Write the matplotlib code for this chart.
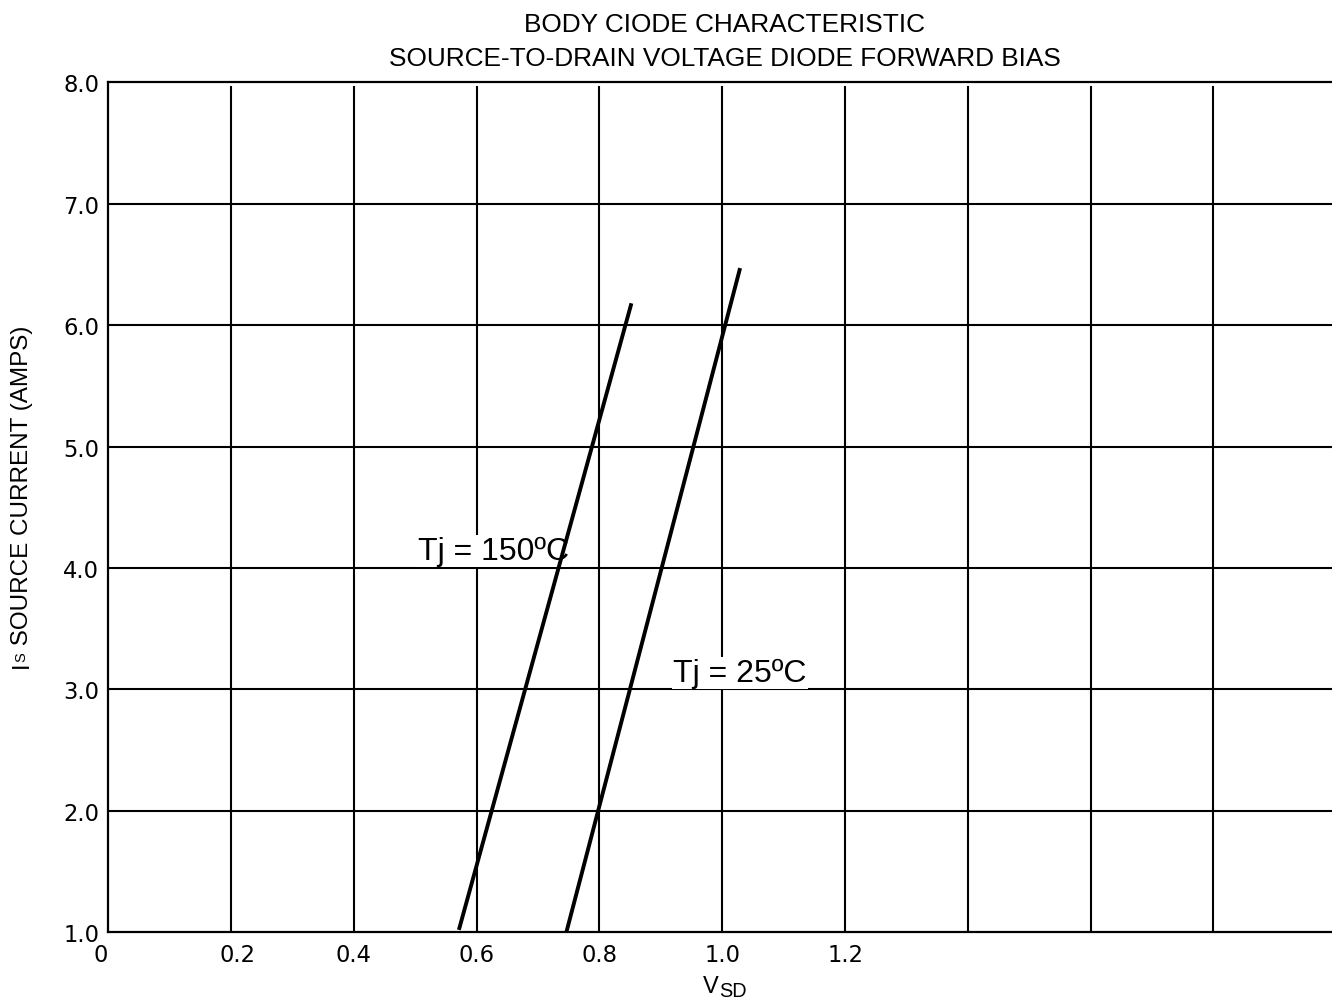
import matplotlib
matplotlib.use("Agg")
import matplotlib.pyplot as plt
from matplotlib.transforms import ScaledTranslation

plt.rcParams['font.family'] = ['Liberation Sans', 'DejaVu Sans']

# Forward characteristic of the body diode (V_SD in volts, I_S in amps)
vsd_150 = [0.571, 0.852]
is_150 = [1.02, 6.18]
vsd_25 = [0.746, 1.029]
is_25 = [1.00, 6.47]

x_ticks = [0, 0.2, 0.4, 0.6, 0.8, 1.0, 1.2]
x_tick_labels = ["0", "0.2", "0.4", "0.6", "0.8", "1.0", "1.2"]
x_grid = [0.2, 0.4, 0.6, 0.8, 1.0, 1.2, 1.4, 1.6, 1.8]
y_ticks = [1, 2, 3, 4, 5, 6, 7, 8]
y_tick_labels = ["1.0", "2.0", "3.0", "4.0", "5.0", "6.0", "7.0", "8.0"]

W, H = 1332, 1004
fig = plt.figure(figsize=(W / 100, H / 100), dpi=100)
ax = fig.add_axes([108.3 / W, 1 - 933.3 / H, 1 - 108.3 / W, (933.3 - 83.3) / H])

ax.set_xlim(0, 1.993)
ax.set_ylim(1, 8)

# grid
for y in y_ticks[1:-1]:
    ax.axhline(y, color='black', lw=1.5, zorder=1)
for x in x_grid:
    ax.axvline(x, ymin=0, ymax=0.995, color='black', lw=1.5, zorder=1)

for side in ['left', 'top', 'bottom']:
    ax.spines[side].set_linewidth(1.6)
    ax.spines[side].set_color('black')
ax.spines['right'].set_visible(False)

tick_font = dict(family='DejaVu Sans', size=16.3)
ax.set_xticks(x_ticks)
ax.set_xticklabels(x_tick_labels, fontdict=tick_font)
ax.set_yticks(y_ticks)
ax.set_yticklabels(y_tick_labels, fontdict=tick_font)
ax.tick_params(axis='both', length=0)
ax.tick_params(axis='y', pad=6.5)
ax.tick_params(axis='x', pad=7.5)

xlabels = ax.get_xticklabels()
xlabels[0].set_horizontalalignment('right')
xlabels[1].set_transform(xlabels[1].get_transform()
                         + ScaledTranslation(6 / 100, 0, fig.dpi_scale_trans))

# curves
ax.plot(vsd_150, is_150, color='black', lw=2.8, zorder=3, solid_capstyle='butt')
ax.plot(vsd_25, is_25, color='black', lw=2.8, zorder=3, solid_capstyle='butt')

# curve labels
box = dict(facecolor='white', edgecolor='none', pad=1)
ax.text(0.5045, 4.074, "Tj = 150ºC", fontsize=23, ha='left', va='baseline',
        zorder=2, bbox=box)
ax.text(0.9199, 3.07, "Tj = 25ºC", fontsize=23, ha='left', va='baseline',
        zorder=2, bbox=box)

# title
fig.text(725 / W, 1 - 31.5 / H, "BODY CIODE CHARACTERISTIC",
         fontsize=18.9, ha='center', va='baseline')
fig.text(725 / W, 1 - 65.5 / H, "SOURCE-TO-DRAIN VOLTAGE DIODE FORWARD BIAS",
         fontsize=18.9, ha='center', va='baseline')

# x axis title: V with subscript SD
fig.canvas.draw()
renderer = fig.canvas.get_renderer()
tv = fig.text(703 / W, 1 - 993 / H, "V", fontsize=17, ha='left', va='baseline')
v_right = tv.get_window_extent(renderer).x1
fig.text(v_right / W, 1 - 997 / H, "SD", fontsize=14.3, ha='left', va='baseline')

# y axis title: I with small S, then the rest, reading upward
pieces = [("I", 17, 0), ("S", 10.5, -2.5), (" SOURCE CURRENT (AMPS)", 17.5, 0)]
texts = []
for s, size, dx in pieces:
    t = fig.text(0, 0, s, fontsize=size, rotation=90, rotation_mode='anchor',
                 ha='left', va='baseline')
    texts.append((t, dx))
lengths = [t.get_window_extent(renderer).height for t, _ in texts]
total = sum(lengths)
y_pos = 507 - total / 2
for (t, dx), length in zip(texts, lengths):
    t.set_position(((28 + dx) / W, y_pos / H))
    y_pos += length

fig.savefig("out.png", dpi=100, facecolor='white')
